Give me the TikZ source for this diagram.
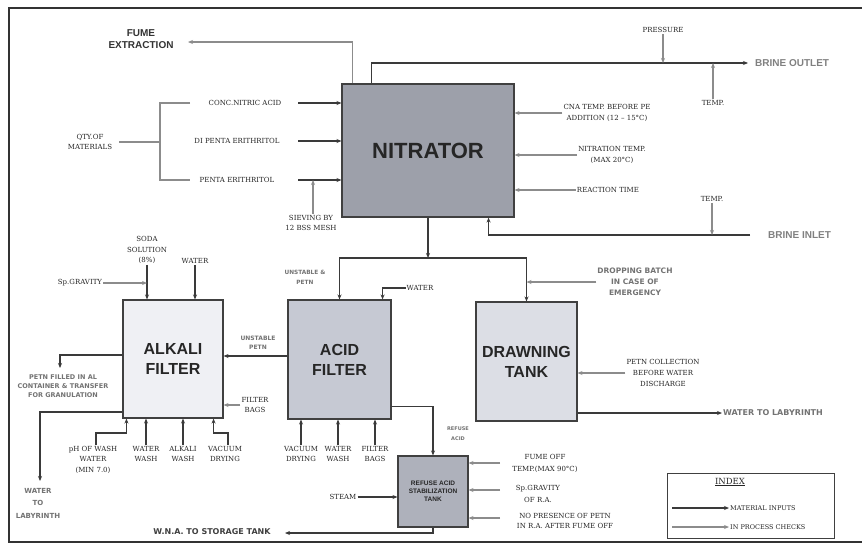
\documentclass[tikz,border=0pt]{standalone}
\usepackage{fontspec}
\setmainfont{DejaVu Serif}
\newfontfamily\lblfont{DejaVu Serif}
\newfontfamily\ttlfont{Liberation Sans}
\newfontfamily\gsfont{DejaVu Sans}
\usetikzlibrary{arrows.meta}
\definecolor{nitfill}{HTML}{9DA0AA}
\definecolor{acidfill}{HTML}{C6C9D3}
\definecolor{drwfill}{HTML}{DCDEE5}
\definecolor{alkfill}{HTML}{EFF0F4}
\definecolor{rastfill}{HTML}{AEB1BB}
\definecolor{linedark}{HTML}{3A3A3A}
\definecolor{linegray}{HTML}{8C8C8C}
\tikzset{
  lbl/.style={font=\lblfont\fontsize{7}{10.5}\selectfont, align=center, text=black!85, inner sep=1pt},
  gl/.style 2 args={font=\gsfont\bfseries\fontsize{#1}{#2}\selectfont, align=center, text=black!55, inner sep=1pt},
  ttl/.style={font=\ttlfont\bfseries\fontsize{16}{20}\selectfont, align=center, text=black!85},
  pbox/.style={draw=black!75, line width=1.1pt, inner sep=0pt},
  mat/.style={draw=linedark, line width=1.4pt, -{Stealth[length=5pt,width=4pt]}},
  chk/.style={draw=linegray, line width=1.2pt, -{Stealth[length=5pt,width=4pt]}},
}
\begin{document}
\begin{tikzpicture}[x=1pt,y=-1pt]
\useasboundingbox (0,0) rectangle (862,544);
\fill[white] (0,0) rectangle (862,544);
\draw[black!80, line width=1.6pt] (862,8) -- (9,8) -- (9,542) -- (862,542);

% ---------- process boxes ----------
\node[pbox, fill=nitfill, minimum width=172pt, minimum height=133pt,
      font=\ttlfont\bfseries\fontsize{22}{26}\selectfont, text=black!85] (nit) at (428,150.5) {NITRATOR};
\node[pbox, ttl, fill=alkfill, minimum width=100pt, minimum height=118pt] (alk) at (173,359) {ALKALI\\FILTER};
\node[pbox, ttl, fill=acidfill, minimum width=103pt, minimum height=119pt] (acid) at (339.5,359.5) {ACID\\FILTER};
\node[pbox, ttl, fill=drwfill, minimum width=101pt, minimum height=119pt] (drw) at (526.5,361.5) {DRAWNING\\TANK};
\node[pbox, fill=rastfill, minimum width=70pt, minimum height=71pt,
      font=\ttlfont\bfseries\fontsize{6.5}{8}\selectfont, align=center, text=black!85] (rast) at (433,491.5) {REFUSE ACID\\STABILIZATION\\TANK};

% ---------- labels: top ----------
\node[font=\ttlfont\bfseries\fontsize{10}{12}\selectfont, align=center, text=black!80] (fume) at (141,39) {FUME\\EXTRACTION};
\node[font=\ttlfont\bfseries\fontsize{10}{12}\selectfont, text=black!50, anchor=west, inner sep=1pt] (bout) at (754,63) {BRINE OUTLET};
\node[font=\ttlfont\bfseries\fontsize{10}{12}\selectfont, text=black!50, anchor=west, inner sep=1pt] (binl) at (767,235) {BRINE INLET};
\node[lbl] (press) at (663,30) {PRESSURE};
\node[lbl] (temp1) at (713,103) {TEMP.};
\node[lbl] (temp2) at (712,199) {TEMP.};
\node[lbl] (cna) at (607,113) {CNA TEMP. BEFORE PE\\ADDITION (12 – 15°C)};
\node[lbl] (ntemp) at (612,155) {NITRATION TEMP.\\(MAX 20°C)};
\node[lbl] (rtime) at (608,190) {REACTION TIME};
\node[lbl] (qty) at (90,142) {QTY.OF\\MATERIALS};
\node[lbl] (conc) at (245,103) {CONC.NITRIC ACID};
\node[lbl] (dipe) at (237,141) {DI PENTA ERITHRITOL};
\node[lbl] (pe) at (237,180) {PENTA ERITHRITOL};
\node[lbl] (siev) at (311,223) {SIEVING BY\\12 BSS MESH};

% ---------- labels: middle ----------
\node[lbl] (soda) at (147,250) {SODA\\SOLUTION\\(8\%)};
\node[lbl] (water1) at (195,261) {WATER};
\node[lbl] (spg) at (80,283) {Sp.GRAVITY};
\node[gl={6}{9}] (unst1) at (258,343) {UNSTABLE\\PETN};
\node[gl={6.5}{9}] (petnf) at (63,386) {PETN FILLED IN AL\\CONTAINER \& TRANSFER\\FOR GRANULATION};
\node[lbl, font=\lblfont\fontsize{7}{10}\selectfont] (fb1) at (255,405) {FILTER\\BAGS};
\node[gl={7}{12.5}] (wtl1) at (38,503) {WATER\\TO\\LABYRINTH};
\node[gl={5.8}{10}] (unst2) at (305,277) {UNSTABLE \&\\PETN};
\node[lbl] (water2) at (420,288) {WATER};
\node[gl={7.5}{11}] (drop) at (635,282) {DROPPING BATCH\\IN CASE OF\\EMERGENCY};
\node[lbl, font=\lblfont\fontsize{7}{11}\selectfont] (petnc) at (663,373) {PETN COLLECTION\\BEFORE WATER\\DISCHARGE};
\node[gl={8}{10}, anchor=west] (wtl2) at (722,413) {WATER TO LABYRINTH};

% ---------- labels: bottom ----------
\node[lbl, anchor=north] (ph) at (93,445) {pH OF WASH\\WATER\\(MIN 7.0)};
\node[lbl, anchor=north] (ww1) at (146,445) {WATER\\WASH};
\node[lbl, anchor=north] (aw) at (183,445) {ALKALI\\WASH};
\node[lbl, anchor=north] (vd1) at (225,445) {VACUUM\\DRYING};
\node[lbl, anchor=north] (vd2) at (301,445) {VACUUM\\DRYING};
\node[lbl, anchor=north] (ww2) at (338,445) {WATER\\WASH};
\node[lbl, anchor=north] (fb2) at (375,445) {FILTER\\BAGS};
\node[gl={5}{10}] (refuse) at (458,434) {REFUSE\\ACID};
\node[lbl] (steam) at (343,497) {STEAM};
\node[lbl, font=\lblfont\fontsize{7}{12}\selectfont] (fot) at (545,463) {FUME OFF\\TEMP.(MAX 90°C)};
\node[lbl, font=\lblfont\fontsize{7}{12}\selectfont] (spg2) at (538,494) {Sp.GRAVITY\\OF R.A.};
\node[lbl] (nopres) at (565,521) {NO PRESENCE OF PETN\\IN R.A. AFTER FUME OFF};
\node[gl={8}{10}, text=black!75] (wna) at (212,532) {W.N.A. TO STORAGE TANK};

% ---------- connectors: nitrator ----------
\coordinate (fumeE) at (188,42);
\draw[chk] ([xshift=11pt]nit.north west) |- (fumeE);
\coordinate (boE) at (748,63);
\draw[mat] ([xshift=30pt]nit.north west) |- (boE);
\draw[chk] (press.south) -- (press.south |- boE);
\draw[chk] (temp1.north) -- (temp1.north |- boE);

\coordinate (brT) at (160,103);
\coordinate (brM) at (160,142);
\coordinate (brB) at (160,180);
\draw[chk,-] ([xshift=30pt]brT) -- (brT) -- (brB) -- ([xshift=30pt]brB);
\draw[chk,-] ([xshift=6pt]qty.east) -- (brM);
\coordinate (inX) at (298,0);
\draw[mat] (inX |- conc) -- (nit.west |- conc);
\draw[mat] (inX |- dipe) -- (nit.west |- dipe);
\draw[mat] (inX |- pe) -- (nit.west |- pe);
\draw[chk] ([xshift=2pt]siev.north) -- ([xshift=2pt]siev.north |- pe);

\draw[chk] (cna.west) -- (cna.west -| nit.east);
\draw[chk] (ntemp.west) -- (ntemp.west -| nit.east);
\draw[chk] (rtime.west) -- (rtime.west -| nit.east);

\coordinate (biS) at (750,235);
\draw[mat] (biS) -| ([xshift=-26pt]nit.south east);
\draw[chk] (temp2.south) -- (temp2.south |- biS);

\coordinate (split) at (428,258);
\draw[mat] (nit.south) -- (split);
\draw[mat] (split) -| (acid.north);
\draw[mat] (split) -| (drw.north);
\draw[chk] (drop.west) -- (drop.west -| drw.north);

% ---------- connectors: filters ----------
\draw[mat] (water2.west) -| ([xshift=-9pt]acid.north east);
\draw[mat] ([yshift=3.5pt]acid.west) -- ([yshift=3.5pt]acid.west -| alk.east);
\draw[mat] (soda.south) -- (soda.south |- alk.north);
\draw[chk] (spg.east) -- (spg.east -| soda.south);
\draw[mat] (water1.south) -- (water1.south |- alk.north);
\coordinate (pfE) at (60,368);
\draw[mat] ([yshift=4pt]alk.west) -| (pfE);
\draw[chk] (fb1.west) -- (fb1.west -| alk.east);
\coordinate (wtlE) at (40,481);
\draw[mat] ([yshift=-53pt]alk.west) -| (wtlE);

\draw[mat] ([xshift=3pt]ph.north) -- ++(0,-12) -| ([xshift=4pt]alk.south west);
\draw[mat] (ww1.north) -- (ww1.north |- alk.south);
\draw[mat] (aw.north) -- (aw.north |- alk.south);
\draw[mat] ([xshift=3pt]vd1.north) -- ++(0,-12) -| ([xshift=-10pt]alk.south east);

\draw[mat] (vd2.north) -- (vd2.north |- acid.south);
\draw[mat] (ww2.north) -- (ww2.north |- acid.south);
\draw[mat] (fb2.north) -- (fb2.north |- acid.south);

\draw[mat] ([yshift=-47pt]acid.east) -| (rast.north);
\draw[mat] (steam.east) -- (steam.east -| rast.west);
\coordinate (k1) at (500,463);
\coordinate (k2) at (500,490);
\coordinate (k3) at (500,518);
\draw[chk] (k1) -- (k1 -| rast.east);
\draw[chk] (k2) -- (k2 -| rast.east);
\draw[chk] (k3) -- (k3 -| rast.east);
\coordinate (wnaE) at (285,533);
\draw[mat] (rast.south) |- (wnaE);

\draw[chk] (petnc.west) -- (petnc.west -| drw.east);
\draw[mat] ([yshift=-51.5pt]drw.east) -- ([yshift=-51.5pt]drw.east -| wtl2.west);

% ---------- index ----------
\node[draw=black!75, line width=1pt, minimum width=167pt, minimum height=65pt, inner sep=0pt] (idx) at (750.5,505.5) {};
\node[lbl, font=\lblfont\fontsize{8.5}{10}\selectfont] (idxt) at (730,482) {\underline{INDEX}};
\node[lbl, font=\lblfont\fontsize{6.5}{8}\selectfont, anchor=west] (mt) at (729,508) {MATERIAL INPUTS};
\node[lbl, font=\lblfont\fontsize{6.5}{8}\selectfont, anchor=west] (ct) at (729,527) {IN PROCESS CHECKS};
\coordinate (m1) at (672,508);
\coordinate (c1) at (672,527);
\draw[mat] (m1) -- (mt.west);
\draw[chk] (c1) -- (ct.west);
\end{tikzpicture}
\end{document}
